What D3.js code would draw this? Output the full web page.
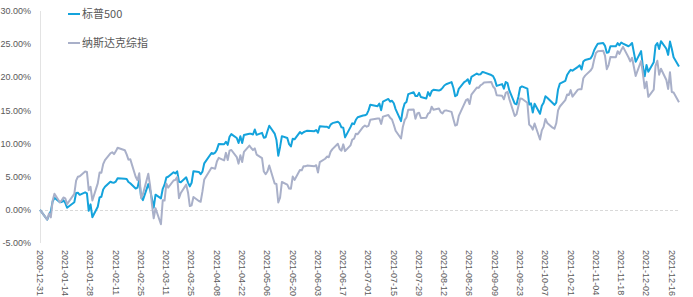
<!DOCTYPE html>
<html>
<head>
<meta charset="utf-8">
<script src="https://cdn.jsdelivr.net/npm/d3@7"></script>
<style>
  body { margin: 0; background: #fff; }
  text { font-family: "Liberation Sans", Arial, sans-serif; fill: #595959; }
  .legend text { font-family: "Noto Sans CJK SC", sans-serif; }
</style>
</head>
<body>
<div id="chart"></div>
<script>
// trading days, grouped by month
let monthDays = [
  ["2020-12", [31]],
  ["2021-01", [4,5,6,7,8,11,12,13,14,15,19,20,21,22,25,26,27,28,29]],
  ["2021-02", [1,2,3,4,5,8,9,10,11,12,16,17,18,19,22,23,24,25,26]],
  ["2021-03", [1,2,3,4,5,8,9,10,11,12,15,16,17,18,19,22,23,24,25,26,29,30,31]],
  ["2021-04", [1,5,6,7,8,9,12,13,14,15,16,19,20,21,22,23,26,27,28,29,30]],
  ["2021-05", [3,4,5,6,7,10,11,12,13,14,17,18,19,20,21,24,25,26,27,28]],
  ["2021-06", [1,2,3,4,7,8,9,10,11,14,15,16,17,18,21,22,23,24,25,28,29,30]],
  ["2021-07", [1,2,6,7,8,9,12,13,14,15,16,19,20,21,22,23,26,27,28,29,30]],
  ["2021-08", [2,3,4,5,6,9,10,11,12,13,16,17,18,19,20,23,24,25,26,27,30,31]],
  ["2021-09", [1,2,3,7,8,9,10,13,14,15,16,17,20,21,22,23,24,27,28,29,30]],
  ["2021-10", [1,4,5,6,7,8,11,12,13,14,15,18,19,20,21,22,25,26,27,28,29]],
  ["2021-11", [1,2,3,4,5,8,9,10,11,12,15,16,17,18,19,22,23,24,26,29,30]],
  ["2021-12", [1,2,3,6,7,8,9,10,13,14,15,16,17,20]]
];

// 标普500, % since 2020-12-31
let spx = [
  0,
  -1.48,-0.78,-0.21,1.27,1.83,1.16,1.20,1.43,1.05,0.32,1.14,2.55,2.58,2.27,2.64,2.49,-0.14,0.83,-1.11,
  0.47,1.87,1.97,3.08,3.48,4.25,4.13,4.10,4.27,4.76,4.70,4.67,4.20,4.01,3.21,3.34,4.51,1.95,1.47,
  3.88,3.04,1.69,0.33,2.29,1.74,3.18,3.80,4.88,4.99,5.67,5.50,5.81,4.24,4.18,4.91,4.11,3.54,4.09,5.82,5.72,5.39,5.77,
  7.02,8.57,8.46,8.62,9.08,9.92,9.90,10.26,9.81,11.03,11.43,10.84,10.09,11.11,10.09,11.29,11.49,11.47,11.37,12.12,11.32,
  11.62,10.88,10.96,11.86,12.69,11.51,10.54,8.17,9.49,11.12,10.84,9.90,9.57,10.73,10.64,11.74,11.50,11.71,11.84,11.93,
  11.87,12.04,11.63,12.61,12.52,12.54,12.34,12.86,13.08,13.29,13.06,12.45,12.40,10.93,12.48,13.06,12.93,13.59,13.97,14.23,14.26,14.41,
  15.01,15.87,15.64,16.03,15.04,16.33,16.73,16.32,16.46,16.08,15.20,13.38,15.10,16.04,16.28,17.46,17.74,17.18,17.16,17.65,17.02,
  16.80,17.76,17.21,17.92,18.12,18.00,18.12,18.41,18.76,18.95,19.27,18.42,17.15,17.30,18.25,19.26,19.44,19.70,19.01,20.06,20.57,20.41,
  20.45,20.79,20.75,20.34,20.18,19.63,18.70,18.97,18.29,19.29,19.11,18.02,16.02,15.92,17.03,18.45,18.62,18.29,15.88,16.06,14.68,
  16.00,14.49,15.70,16.17,17.14,16.91,16.11,15.83,16.18,18.16,19.04,19.45,20.33,20.77,21.13,21.00,21.58,21.80,21.18,22.37,22.61,
  22.83,23.28,24.08,24.60,25.07,25.18,24.74,23.71,23.78,24.67,24.67,25.15,24.83,25.25,25.08,24.68,24.88,25.17,22.33,23.94,21.59,
  20.15,21.86,20.83,22.25,24.78,25.16,24.26,25.45,24.30,23.38,25.39,24.30,23.02,21.62
];

// 纳斯达克综指, % since 2020-12-31
let ixic = [
  0,
  -1.47,-0.54,-1.14,1.39,2.43,1.15,1.43,1.87,1.74,0.86,2.40,4.41,4.99,5.08,5.80,5.72,2.97,3.48,1.42,
  4.00,5.62,5.60,6.90,7.51,8.53,8.69,8.41,8.83,9.37,8.99,8.36,7.58,7.65,5.00,4.48,5.51,1.79,2.36,
  5.44,3.65,0.85,-1.28,0.25,-2.17,1.44,1.40,3.96,3.35,4.43,4.53,4.94,1.77,2.54,3.80,2.63,0.57,0.69,1.94,1.33,1.22,2.78,
  4.59,6.34,6.29,6.21,7.30,7.85,7.46,8.60,7.52,8.93,9.03,7.96,6.97,8.24,7.22,8.76,9.70,9.33,9.02,9.27,8.34,
  7.81,5.78,5.39,5.78,6.70,3.98,3.89,1.11,1.84,4.20,3.81,3.22,3.19,5.02,4.52,6.00,5.97,6.59,6.58,6.68,
  6.58,6.74,5.63,7.19,7.71,8.04,7.94,8.78,9.16,9.98,9.19,8.93,9.88,8.86,9.72,10.59,10.73,11.49,11.42,12.51,12.73,12.54,
  12.68,13.59,13.78,13.79,12.97,14.07,14.32,13.88,13.63,12.84,11.94,10.76,12.50,13.53,13.94,15.12,15.15,13.75,14.54,14.66,13.85,
  13.91,14.53,14.68,15.57,15.11,15.30,14.74,14.56,14.96,15.01,14.78,13.72,12.71,12.83,14.17,15.94,16.54,16.71,15.96,17.39,18.45,18.40,
  18.79,18.95,19.21,19.29,18.61,18.31,17.28,17.20,16.68,17.64,17.80,16.73,14.17,14.42,15.58,16.79,16.76,16.15,12.87,12.60,12.11,
  13.02,10.61,11.99,12.52,13.70,13.12,12.40,12.24,13.06,15.01,15.59,16.55,17.39,17.33,18.06,17.08,18.14,18.21,18.21,19.86,20.25,
  21.01,21.43,22.68,23.68,23.92,24.01,23.26,21.22,21.85,23.07,23.01,23.94,23.54,24.10,24.59,23.02,22.40,22.94,20.20,22.46,20.56,
  18.36,19.34,17.05,18.13,21.71,22.49,20.40,21.28,19.59,18.23,20.77,17.79,17.70,16.24
];

let xTickLabels = ["2020-12-31","2021-01-14","2021-01-28","2021-02-11","2021-02-25","2021-03-11",
  "2021-03-25","2021-04-08","2021-04-22","2021-05-06","2021-05-20","2021-06-03","2021-06-17",
  "2021-07-01","2021-07-15","2021-07-29","2021-08-12","2021-08-26","2021-09-09","2021-09-23",
  "2021-10-07","2021-10-21","2021-11-04","2021-11-18","2021-12-02","2021-12-16"];
let yTicks = [-5, 0, 5, 10, 15, 20, 25, 30];

let seriesNames = ["标普500", "纳斯达克综指"];
let seriesColors = ["#14a3dc", "#a9b0c9"];

let width = 693, height = 297;
let parseDate = d3.utcParse("%Y-%m-%d");

let dates = [];
monthDays.forEach(function(m){
  m[1].forEach(function(d){ dates.push(parseDate(m[0] + "-" + (d < 10 ? "0" + d : d))); });
});

let x = d3.scaleUtc()
  .domain([dates[0], dates[dates.length - 1]])
  .range([40, 679]);
let y = d3.scaleLinear().domain([-5, 30]).range([243, 11]);

let svg = d3.select("#chart").append("svg")
  .attr("width", width)
  .attr("height", height);

// y axis line
svg.append("line")
  .attr("x1", 40.5).attr("x2", 40.5)
  .attr("y1", y(30)).attr("y2", y(-5))
  .style("stroke", "#e3e3e3");

// zero line (dashed)
svg.append("line")
  .attr("x1", 40).attr("x2", 680)
  .attr("y1", Math.round(y(0)) + 0.5).attr("y2", Math.round(y(0)) + 0.5)
  .style("stroke", "#d9d9d9")
  .style("stroke-dasharray", "3,2");

// y labels
svg.append("g").selectAll("text")
  .data(yTicks)
  .enter().append("text")
    .attr("x", 31)
    .attr("y", function(d){ return y(d); })
    .attr("dy", "0.35em")
    .attr("text-anchor", "end")
    .style("font-size", "9px")
    .text(function(d){ return d.toFixed(2) + "%"; });

// x labels, rotated
svg.append("g").selectAll("text")
  .data(xTickLabels)
  .enter().append("text")
    .attr("transform", function(d){ return "translate(" + x(parseDate(d)) + ",250) rotate(90)"; })
    .attr("dy", "0.35em")
    .attr("text-anchor", "start")
    .style("font-size", "9px")
    .text(function(d){ return d; });

let line = d3.line()
  .x(function(d){ return x(d[0]); })
  .y(function(d){ return y(d[1]); });

[spx, ixic].forEach(function(vals, i){
  svg.append("path")
    .datum(dates.map(function(d, j){ return [d, vals[j]]; }))
    .attr("d", line)
    .style("fill", "none")
    .style("stroke", seriesColors[i])
    .style("stroke-width", 2)
    .style("stroke-linejoin", "round");
});

// legend
let legend = svg.append("g").attr("class", "legend");
seriesNames.forEach(function(name, i){
  let ly = 14 + i * 29;
  legend.append("line")
    .attr("x1", 68).attr("x2", 80)
    .attr("y1", ly).attr("y2", ly)
    .style("stroke", seriesColors[i])
    .style("stroke-width", 2);
  legend.append("text")
    .attr("x", 82)
    .attr("y", ly)
    .attr("dy", "0.35em")
    .style("font-size", "11px")
    .text(name);
});
</script>
</body>
</html>
